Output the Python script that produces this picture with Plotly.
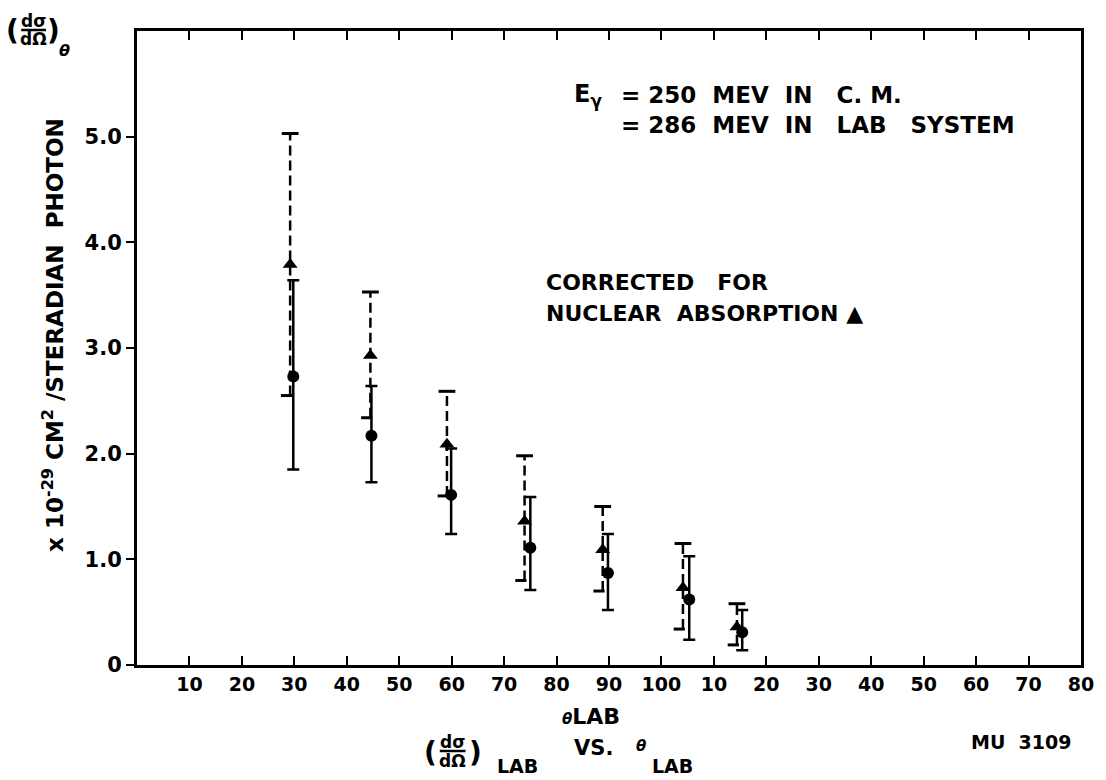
import plotly.graph_objects as go

# ---------------- data ----------------
# corrected for nuclear absorption (triangles, dashed error bars)
tri_x = [29.2, 44.5, 59.1, 73.9, 88.8, 104.1, 114.4]
tri_y = [3.79, 2.93, 2.09, 1.36, 1.09, 0.73, 0.36]
tri_hi = [5.03, 3.53, 2.59, 1.98, 1.50, 1.15, 0.58]
tri_lo = [2.55, 2.34, 1.60, 0.80, 0.70, 0.34, 0.19]

# uncorrected (circles, solid error bars)
cir_x = [29.8, 44.7, 59.9, 75.0, 89.8, 105.3, 115.4]
cir_y = [2.73, 2.17, 1.61, 1.11, 0.87, 0.62, 0.31]
cir_hi = [3.64, 2.64, 2.05, 1.59, 1.24, 1.03, 0.52]
cir_lo = [1.85, 1.73, 1.24, 0.71, 0.52, 0.24, 0.14]

x_tickvals = [10, 20, 30, 40, 50, 60, 70, 80, 90, 100, 110, 120, 130, 140, 150, 160, 170, 180]
x_ticktext = ["10", "20", "30", "40", "50", "60", "70", "80", "90", "100",
              "10", "20", "30", "40", "50", "60", "70", "80"]
y_tickvals = [0, 1, 2, 3, 4, 5]
y_ticktext = ["0", "1.0", "2.0", "3.0", "4.0", "5.0"]

FONT = "DejaVu Sans"
W, H = 1106, 780
ML, MR, MT, MB = 137, 15, 31, 115
PW, PH = W - ML - MR, H - MT - MB
HALF_CAP_SHIFT = 0.7  # degrees: bottom caps of dashed bars sit left of the bar


def px(x):
    return (x - ML) / PW


def py(y):
    return (H - MB - y) / PH


fig = go.Figure()

# dashed error bars for triangles
seg_x, seg_y = [], []
for x, lo, hi in zip(tri_x, tri_lo, tri_hi):
    seg_x += [x, x, None]
    seg_y += [lo, hi, None]
fig.add_trace(go.Scatter(x=seg_x, y=seg_y, mode="lines",
                         line=dict(color="black", width=2.5, dash="10px,5px"),
                         hoverinfo="skip", showlegend=False))
# full top caps for triangle bars
fig.add_trace(go.Scatter(x=tri_x, y=tri_hi, mode="markers",
                         marker=dict(symbol="line-ew", size=12,
                                     line=dict(color="black", width=3)),
                         hoverinfo="skip", showlegend=False))
# half bottom caps (to the left of the bar)
fig.add_trace(go.Scatter(x=[x - HALF_CAP_SHIFT for x in tri_x], y=tri_lo, mode="markers",
                         marker=dict(symbol="line-ew", size=8,
                                     line=dict(color="black", width=3)),
                         hoverinfo="skip", showlegend=False))
# triangles
fig.add_trace(go.Scatter(x=tri_x, y=tri_y, mode="markers",
                         marker=dict(symbol="triangle-up", size=13, color="black"),
                         showlegend=False))

# circles with solid error bars
fig.add_trace(go.Scatter(
    x=cir_x, y=cir_y, mode="markers",
    marker=dict(symbol="circle", size=12, color="black"),
    error_y=dict(type="data", symmetric=False,
                 array=[h - v for h, v in zip(cir_hi, cir_y)],
                 arrayminus=[v - l for v, l in zip(cir_y, cir_lo)],
                 color="black", thickness=2.5, width=6),
    showlegend=False))

ann = []


def text(x, y, s, size=22, xanchor="center", yanchor="middle", angle=0):
    ann.append(dict(x=px(x), y=py(y), xref="paper", yref="paper", text=s,
                    showarrow=False, xanchor=xanchor, yanchor=yanchor,
                    textangle=angle, font=dict(family=FONT, size=size, color="black")))


shapes = []


def hline(x0, x1, y, w=2):
    shapes.append(dict(type="line", xref="paper", yref="paper",
                       x0=px(x0), x1=px(x1), y0=py(y), y1=py(y),
                       line=dict(color="black", width=w)))


# upper-left (dσ/dΩ)θ
text(11, 30, "<b>(</b>", size=28)
text(32, 21, "<b>dσ</b>", size=17)
hline(20, 45, 30, 2.5)
text(32, 39, "<b>dΩ</b>", size=17)
text(53, 30, "<b>)</b>", size=28)
text(64, 50, "<b><i>θ</i></b>", size=16)

# y-axis title
text(52, 335, "<b>x 10<sup>-29</sup> CM<sup>2</sup> /STERADIAN  PHOTON</b>", size=23, angle=-90)

# energy annotation
text(577, 95, "<b>E<sub>γ</sub></b>", size=24, xanchor="left")
text(624, 95, "<b>= 250  MEV  IN   C. M.</b>", size=23, xanchor="left")
text(624, 125, "<b>= 286  MEV  IN   LAB   SYSTEM</b>", size=23, xanchor="left")

# corrected note
text(548, 282, "<b>CORRECTED   FOR</b>", size=22, xanchor="left")
text(548, 313, "<b>NUCLEAR  ABSORPTION ▲</b>", size=22, xanchor="left")

# x-axis title
text(596, 716, "<b><span style='font-size:15px'><i>θ</i></span>LAB</b>", size=22)

# bottom caption
text(434, 752, "<b>(</b>", size=28)
text(456, 742, "<b>dσ</b>", size=17)
hline(443, 469, 751, 2.5)
text(456, 761, "<b>dΩ</b>", size=17)
text(479, 752, "<b>)</b>", size=28)
text(522, 766, "<b>LAB</b>", size=19)
text(598, 748, "<b>VS.</b>", size=21)
text(646, 746, "<b><i>θ</i></b>", size=15)
text(678, 766, "<b>LAB</b>", size=19)

text(1030, 742, "<b>MU  3109</b>", size=19)

fig.update_layout(
    width=W, height=H,
    margin=dict(l=ML, r=MR, t=MT, b=MB, pad=0),
    paper_bgcolor="white", plot_bgcolor="white",
    annotations=ann, shapes=shapes,
    font=dict(family=FONT, color="black"),
    xaxis=dict(range=[0, 180], tickvals=x_tickvals,
               ticktext=["<b>%s</b>" % t for t in x_ticktext],
               ticks="inside", ticklen=9, tickwidth=2, tickcolor="black",
               showline=True, linewidth=3, linecolor="black", mirror="ticks",
               showgrid=False, zeroline=False,
               tickfont=dict(family=FONT, size=19, color="black")),
    yaxis=dict(range=[0, 6], tickvals=y_tickvals,
               ticktext=["<b>%s</b>" % t for t in y_ticktext],
               ticks="outside", ticklen=8, tickwidth=2, tickcolor="black",
               showline=True, linewidth=3, linecolor="black", mirror=True,
               showgrid=False, zeroline=False,
               tickfont=dict(family=FONT, size=21, color="black")),
)

fig.write_html("out.html")
